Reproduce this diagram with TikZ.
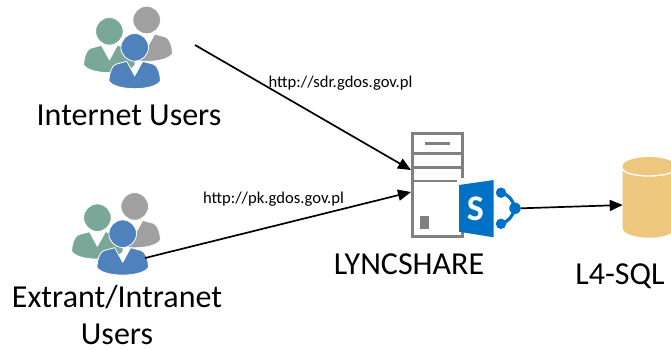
\documentclass[tikz,border=0pt]{standalone}
\usepackage{fontspec}
\setmainfont{Carlito}
\usetikzlibrary{arrows.meta}
\definecolor{ublue}{HTML}{4F81BD}
\definecolor{ugreen}{HTML}{79A899}
\definecolor{ugray}{HTML}{A0A0A0}
\definecolor{srv}{HTML}{808080}
\definecolor{spblue}{HTML}{0072C6}
\definecolor{dbcol}{HTML}{EEC77E}
\tikzset{
  x=1pt,y=-1pt,
  person/.pic={
    \fill[pic actions,draw=white,line width=0.8pt] (-8,14) -- (0,28.5) -- (8,14) -- (19,17) .. controls (23,18.5) and (25.5,26) .. (25.8,33.5) .. controls (20,44) and (-20,44) .. (-25.8,33.5) .. controls (-25.5,26) and (-23,18.5) .. (-19,17) -- cycle;
    \fill[pic actions,draw=white,line width=0.8pt] (0,0) circle (13.8);
  },
  users/.pic={
    \pic[fill=ugray] at (12,-27.3) {person};
    \pic[fill=ugreen] at (-25.3,-16) {person};
    \pic[fill=ublue] at (0,0) {person};
  },
  label/.style={font=\fontsize{32}{32}\selectfont,inner sep=0pt,anchor=center},
  urllabel/.style={font=\fontsize{16.6}{17}\selectfont,inner sep=0pt,anchor=center},
  link/.style={draw=black,line width=1.7pt,-{Triangle[length=13pt,width=11pt]}},
  srvline/.style={draw=srv,line width=2.5pt},
}
\begin{document}
\begin{tikzpicture}
\useasboundingbox (0,0) rectangle (671,349);
\fill[white] (0,0) rectangle (671,349);
% users
\pic at (134.7,47.3) {users};
\pic at (122.7,233.7) {users};
\coordinate (inetout) at (195,45);
\coordinate (extout) at (145,258);
% server
\node[srvline,minimum width=50pt,minimum height=103pt,inner sep=0pt,fill=white] (server) at (437.3,185) {};
\draw[srvline] (server.west |- 0,153.5) -- (server.east |- 0,153.5);
\draw[srvline] (server.west |- 0,167.7) -- (server.east |- 0,167.7);
\draw[srvline] (server.west |- 0,181) -- (server.east |- 0,181);
\fill[srv] (425,142) rectangle (450,145);
\fill[srv] (420,216) rectangle (429,229);
\coordinate (srvin1) at (411,170);
\coordinate (srvin2) at (411,192);
% sharepoint
\fill[white] (457,178) rectangle (496,232);
\fill[spblue] (459,185) -- (493.7,180) -- (493.7,237.3) -- (459,231.7) -- cycle;
\node[font=\bfseries\fontsize{36}{36}\selectfont,text=white,inner sep=0pt] (sp) at (475.5,209) {S};
\draw[spblue,line width=3.2pt] (501,192.7) .. controls (508,194) and (513,200) .. (515,208.3) .. controls (513,216) and (508,222) .. (501,223.8);
\fill[spblue] (501,192.7) circle (5.2);
\fill[spblue] (501,223.8) circle (5.2);
\node[circle,fill=spblue,minimum size=11.5pt,inner sep=0pt] (hub) at (515,208.3) {};
% database
\fill[dbcol] (622.7,166) -- (622.7,228) arc[start angle=180,end angle=0,x radius=26.3,y radius=9.7] -- (675.3,166) arc[start angle=360,end angle=180,x radius=26.3,y radius=9] -- cycle;
\draw[white,line width=1.3pt] (622.7,168.5) arc[start angle=180,end angle=0,x radius=26.3,y radius=7.5];
\coordinate (dbin) at (622.7,205);
% connectors
\draw[link] (inetout) -- (srvin1);
\draw[link] (extout) -- (srvin2);
\draw[link] (hub.east) -- (dbin);
% labels
\node[label] (l1) at (129,115) {Internet Users};
\node[label] (l2) at (117,297) {Extrant/Intranet};
\node[label] (l4) at (117,334.5) {Users};
\node[label] (l5) at (409,264) {LYNCSHARE};
\node[label] (l6) at (620,276) {L4-SQL};
\node[urllabel] (u1) at (340.5,83) {http://sdr.gdos.gov.pl};
\node[urllabel] (u2) at (273.5,199) {http://pk.gdos.gov.pl};
\end{tikzpicture}
\end{document}
